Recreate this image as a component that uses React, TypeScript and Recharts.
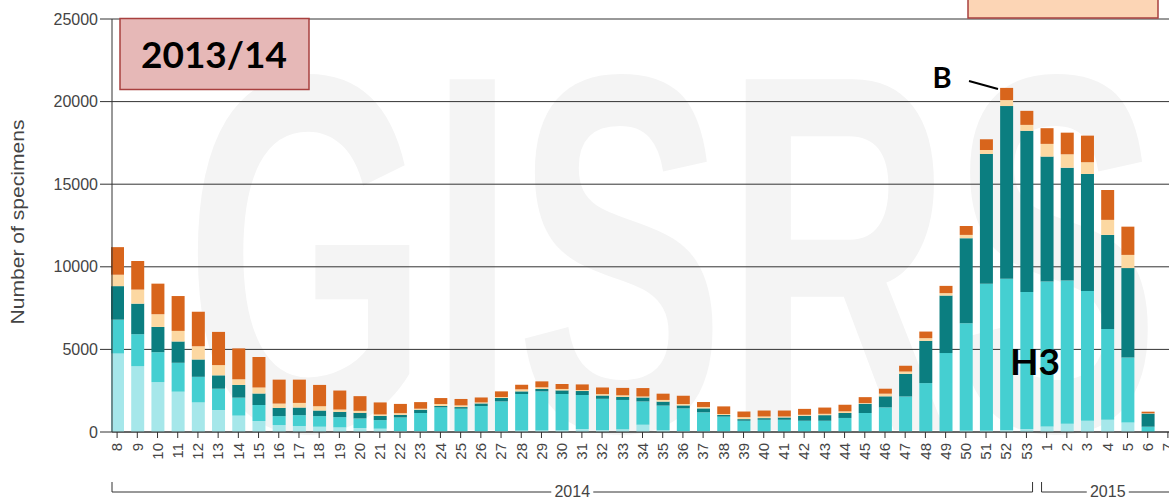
import React from 'react'
import { BarChart, Bar, XAxis, YAxis, CartesianGrid } from 'recharts'

// ISO weeks 8/2014 through 7/2015
const weeks = [
  '8', '9', '10', '11', '12', '13', '14', '15', '16', '17', '18', '19', '20', '21',
  '22', '23', '24', '25', '26', '27', '28', '29', '30', '31', '32', '33', '34', '35',
  '36', '37', '38', '39', '40', '41', '42', '43', '44', '45', '46', '47', '48', '49',
  '50', '51', '52', '53', '1', '2', '3', '4', '5', '6', '7',
]

// specimens per week, stacked bottom to top
const h1pdm = [
  4750, 3990, 3020, 2440, 1790, 1330, 990, 660, 420, 360, 320, 280, 240, 200,
  60, 60, 50, 50, 50, 60, 80, 90, 100, 180, 120, 160, 440, 100,
  60, 50, 40, 30, 30, 30, 30, 30, 30, 30, 30, 40, 40, 50,
  80, 80, 100, 180, 340, 500, 680, 740, 580, 0, 0,
]
const h3 = [
  2050, 1930, 1810, 1750, 1550, 1290, 1090, 970, 540, 660, 640, 620, 580, 520,
  820, 1090, 1440, 1360, 1520, 1790, 2220, 2370, 2200, 2060, 1890, 1780, 1410, 1500,
  1370, 1140, 890, 650, 710, 710, 650, 650, 820, 1120, 1460, 2110, 2920, 4730,
  6510, 8890, 9170, 8290, 8770, 8670, 7860, 5500, 3930, 320, 0,
]
const aNotSubtyped = [
  2030, 1850, 1530, 1290, 1050, 810, 770, 700, 500, 460, 340, 320, 340, 260,
  160, 200, 85, 100, 160, 210, 160, 145, 220, 240, 200, 180, 240, 240,
  180, 240, 100, 100, 100, 140, 300, 340, 300, 560, 670, 1370, 2560, 3480,
  5140, 7860, 10460, 9760, 7560, 6830, 7080, 5690, 5410, 790, 0,
]
const bLineage = [
  690, 850, 770, 640, 800, 620, 340, 360, 260, 280, 260, 140, 120, 80,
  100, 60, 120, 100, 60, 60, 120, 100, 85, 60, 85, 100, 60, 100,
  85, 85, 60, 120, 100, 60, 60, 80, 100, 40, 160, 140, 160, 145,
  200, 240, 360, 360, 770, 810, 710, 910, 800, 20, 0,
]
const bNotDetermined = [
  1670, 1730, 1850, 2110, 2090, 2010, 1870, 1850, 1450, 1410, 1290, 1150, 890, 730,
  560, 400, 360, 390, 300, 340, 280, 360, 300, 340, 400, 450, 510, 380,
  500, 300, 460, 340, 360, 360, 360, 380, 400, 360, 300, 350, 400, 440,
  540, 650, 740, 850, 950, 1310, 1610, 1810, 1710, 100, 0,
]

const yTicks = [0, 5000, 10000, 15000, 20000, 25000]

const data = weeks.map((week, i) => ({
  week,
  h1pdm: h1pdm[i],
  h3: h3[i],
  aNotSubtyped: aNotSubtyped[i],
  bLineage: bLineage[i],
  bNotDetermined: bNotDetermined[i],
}))

const series = [
  { key: 'h1pdm', color: '#a6e7ea' },
  { key: 'h3', color: '#45cfd1' },
  { key: 'aNotSubtyped', color: '#0b7e80' },
  { key: 'bLineage', color: '#fcd8a2' },
  { key: 'bNotDetermined', color: '#d8651c' },
]

const W = 1178
const H = 498
const PLOT_LEFT = 112
const X_PAD = -5
const RANGE_START = PLOT_LEFT + X_PAD
const STEP = (W - RANGE_START) / weeks.length
const FONT = '"Liberation Sans", Arial, sans-serif'
const BOLD = 'Lato, "Open Sans", sans-serif'

const WeekTick = ({ x, y, payload }: any) => (
  <g transform={`translate(${x},${y})`}>
    <text
      transform="rotate(-90)"
      x={-3}
      dy="0.35em"
      textAnchor="end"
      fill="#444"
      fontSize={15}
      fontFamily={FONT}
    >
      {payload.value}
    </text>
  </g>
)

// year bracket under the week labels
function YearBracket({ from, to, label }: { from: number; to: number; label: string }) {
  const x1 = RANGE_START + from * STEP + 5
  const x2 = RANGE_START + to * STEP - 4
  const cx = (x1 + x2) / 2
  const half = 21
  return (
    <g stroke="#333" strokeWidth={1}>
      <line x1={x1} y1={482} x2={x1} y2={492} />
      <line x1={x1} y1={492} x2={cx - half} y2={492} />
      <line x1={cx + half} y1={492} x2={x2} y2={492} />
      <line x1={x2} y1={482} x2={x2} y2={492} />
      <text
        x={cx}
        y={491}
        stroke="none"
        fill="#444"
        fontSize={16}
        fontFamily={FONT}
        textAnchor="middle"
        dominantBaseline="central"
      >
        {label}
      </text>
    </g>
  )
}

export default function App() {
  return (
    <div
      style={{
        position: 'absolute',
        left: 0,
        top: 0,
        width: 1169,
        height: 498,
        overflow: 'hidden',
        background: '#fff',
      }}
    >
      {/* watermark */}
      <svg width={1169} height={498} style={{ position: 'absolute', left: 0, top: 0 }}>
        <text
          x={185}
          y={430}
          fontSize={510}
          fontWeight={700}
          fontFamily={FONT}
          fill="#f4f4f4"
          textLength={975}
          lengthAdjust="spacingAndGlyphs"
        >
          GISRS
        </text>
      </svg>

      <div style={{ position: 'absolute', left: 0, top: 0 }}>
        <BarChart
          width={W}
          height={H}
          data={data}
          margin={{ top: 19, right: 0, bottom: 0, left: 0 }}
          barSize={13}
        >
          <CartesianGrid vertical={false} stroke="#333" strokeOpacity={1} />
          <XAxis
            dataKey="week"
            interval={0}
            height={66}
            tickSize={6}
            padding={{ left: X_PAD, right: 0 }}
            axisLine={{ stroke: '#333' }}
            tickLine={{ stroke: '#333' }}
            tick={<WeekTick />}
          />
          <YAxis
            width={PLOT_LEFT}
            domain={[0, 25000]}
            ticks={yTicks}
            tickSize={12}
            axisLine={{ stroke: '#333' }}
            tickLine={{ stroke: '#333' }}
            tick={{ fill: '#444', fontSize: 16, fontFamily: FONT }}
          />
          {series.map((s) => (
            <Bar
              key={s.key}
              dataKey={s.key}
              stackId="a"
              fill={s.color}
              isAnimationActive={false}
            />
          ))}
        </BarChart>
      </div>

      {/* annotations */}
      <svg
        width={1169}
        height={498}
        style={{ position: 'absolute', left: 0, top: 0, pointerEvents: 'none' }}
      >
        <text
          transform="rotate(-90, 24, 222)"
          x={24}
          y={222}
          textAnchor="middle"
          fill="#444"
          fontSize={18}
          fontFamily={FONT}
          textLength={205}
          lengthAdjust="spacingAndGlyphs"
        >
          Number of specimens
        </text>

        <YearBracket from={0} to={46} label="2014" />
        <YearBracket from={46} to={53} label="2015" />

        <rect x={120} y={18.5} width={189} height={71} fill="#e6b8b7" stroke="#a8403f" strokeWidth={1.5} />
        <text x={214} y={68} textAnchor="middle" fontSize={37} fontWeight={700} fontFamily={BOLD} fill="#000">
          2013/14
        </text>

        <rect x={968} y={-53} width={190} height={71} fill="#fcd5b5" stroke="#a8403f" strokeWidth={1.5} />
        <text x={1063} y={-3} textAnchor="middle" fontSize={37} fontWeight={700} fontFamily={BOLD} fill="#000">
          2014/15
        </text>

        <text x={942} y={88} textAnchor="middle" fontSize={29} fontWeight={700} fontFamily={BOLD} fill="#000">
          B
        </text>
        <line x1={969} y1={81} x2={998} y2={89} stroke="#000" strokeWidth={2} />

        <text x={1035} y={375} textAnchor="middle" fontSize={37} fontWeight={700} fontFamily={BOLD} fill="#000">
          H3
        </text>
      </svg>
    </div>
  )
}
